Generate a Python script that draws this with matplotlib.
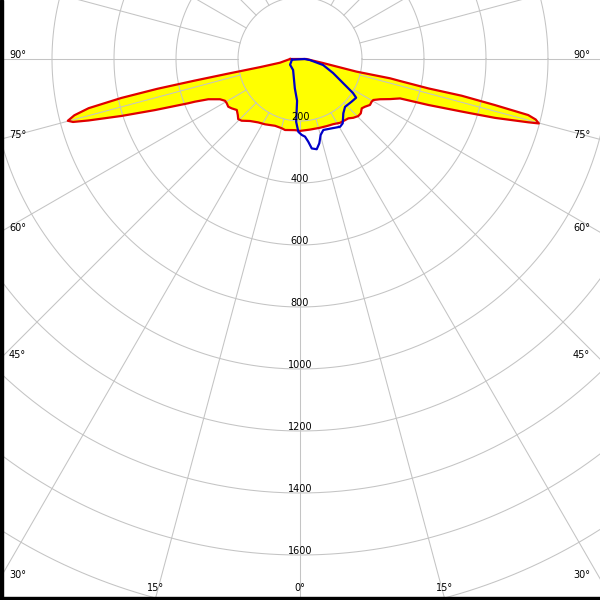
import numpy as np
import matplotlib
matplotlib.use('Agg')
import matplotlib.pyplot as plt

# Luminous intensity distribution, angle from nadir (deg) and intensity (cd)
# C0-C180 plane (red, filled)
red_angles = [-90, -79.5, -78.5, -78.5, -78.4, -78.2, -77.7, -76.9, -76.0, -75.1,
              -74.5, -73.8, -72.3, -70.6, -68.4, -67.9, -66.3, -63.3, -60.9, -58.9,
              -56.4, -54.2, -51.1, -48.0, -45.8, -43.4, -38.9, -33.4, -28.2, -20.5,
              -14.8, -11.9, -4.0, 0, 8.1, 16.2, 21.7, 27.1, 32.1, 36.4,
              39.2, 42.2, 45.6, 48.2, 51.4, 53.7, 56.7, 59.2, 60.8, 63.3,
              66.0, 68.5, 70.3, 72.0, 73.2, 74.5, 74.9, 75.6, 76.2, 76.7,
              77.2, 77.1, 77.6, 77.9, 77.4, 80.1, 90]
red_cd = [32, 66, 130, 240, 350, 470, 590, 700, 750, 775,
          760, 711, 604, 496, 388, 366, 323, 289, 277, 276,
          278, 272, 262, 270, 278, 274, 257, 245, 239, 230,
          231, 234, 230, 232, 230, 231, 233, 236, 243, 245,
          247, 256, 263, 263, 255, 260, 270, 269, 271, 289,
          318, 347, 440, 549, 657, 764, 798, 785, 758, 646,
          535, 425, 330, 297, 187, 75, 20]

# C90-C270 plane (blue)
blue_angles = [-85, -60, -32, -10, -4, -3.5, -1.3, 1.3, 3.7, 5.7,
               7.5, 10.5, 12.9, 15.2, 18.2, 24.6, 30.6, 33.6, 38.6, 43.3,
               50.4, 55.4, 57.3, 60.8, 67, 75.4, 84, 90]
blue_cd = [26, 37, 42, 96, 135, 203, 235, 245, 251, 268,
           291, 296, 279, 254, 241, 246, 254, 249, 224, 212,
           216, 220, 203, 159, 116, 77, 32, 15]

ring_values = [200, 400, 600, 800, 1000, 1200, 1400, 1600]
side_labels = [30, 45, 60, 75, 90]
bottom_labels = [0, 15]

SCALE = 0.31          # pixels per cd
CX, CY = 300, 59      # pole position in pixels
W = H = 600

GRID = '#c4c4c4'


def to_xy(angles, values):
    a = np.radians(np.asarray(angles, dtype=float))
    v = np.asarray(values, dtype=float)
    return v * np.sin(a), -v * np.cos(a)


fig = plt.figure(figsize=(6, 6), dpi=100)
ax = fig.add_axes([0, 0, 1, 1])
ax.set_xlim(-CX / SCALE, (W - CX) / SCALE)
ax.set_ylim(-(H - CY) / SCALE, CY / SCALE)
ax.axis('off')

# polar grid
t = np.linspace(0, 2 * np.pi, 721)
for r in range(200, 2200, 200):
    ax.plot(r * np.cos(t), r * np.sin(t), color=GRID, lw=0.75, zorder=3)
for a in range(0, 360, 15):
    ar = np.radians(a)
    ax.plot([200 * np.sin(ar), 2200 * np.sin(ar)],
            [-200 * np.cos(ar), -2200 * np.cos(ar)],
            color=GRID, lw=0.75, zorder=3)

# curves
rx, ry = to_xy(red_angles, red_cd)
ax.fill(rx, ry, color='#ffff00', lw=0, zorder=2)
ax.plot(np.append(rx, rx[0]), np.append(ry, ry[0]), color='#e00000', lw=1.6, zorder=4)
bx, by = to_xy(blue_angles, blue_cd)
ax.plot(np.append(bx, bx[0]), np.append(by, by[0]), color='#0000c8', lw=1.6, zorder=5)

fs = 7
# intensity labels along nadir
for r in ring_values:
    ax.text(0, -r - 1 / SCALE, str(r), ha='center', va='bottom', fontsize=fs, zorder=6)

# angle labels on left/right edges
xe = CX / SCALE
for a in side_labels:
    ycross = -xe / np.tan(np.radians(a)) if a != 90 else 0
    ax.text(-xe + 9 / SCALE, ycross - 1 / SCALE, f'{a}°', ha='left', va='bottom',
            fontsize=fs, zorder=6)
    ax.text(xe - 10 / SCALE, ycross - 1 / SCALE, f'{a}°', ha='right', va='bottom',
            fontsize=fs, zorder=6)

# angle labels along bottom edge
ybot = -(H - CY) / SCALE
for a in bottom_labels:
    xc = -ybot * np.tan(np.radians(a))
    for s in ([1] if a == 0 else [-1, 1]):
        ax.text(s * xc, ybot + 7 / SCALE, f'{a}°', ha='center', va='bottom',
                fontsize=fs, zorder=6)

# frame
fig.patches.append(plt.Rectangle((0, 0), 3 / W, 1, transform=fig.transFigure,
                                 color='black', zorder=10))
fig.patches.append(plt.Rectangle((0, 0), 1, 3 / H, transform=fig.transFigure,
                                 color='black', zorder=10))

fig.savefig('out.png', dpi=100, facecolor='white')
